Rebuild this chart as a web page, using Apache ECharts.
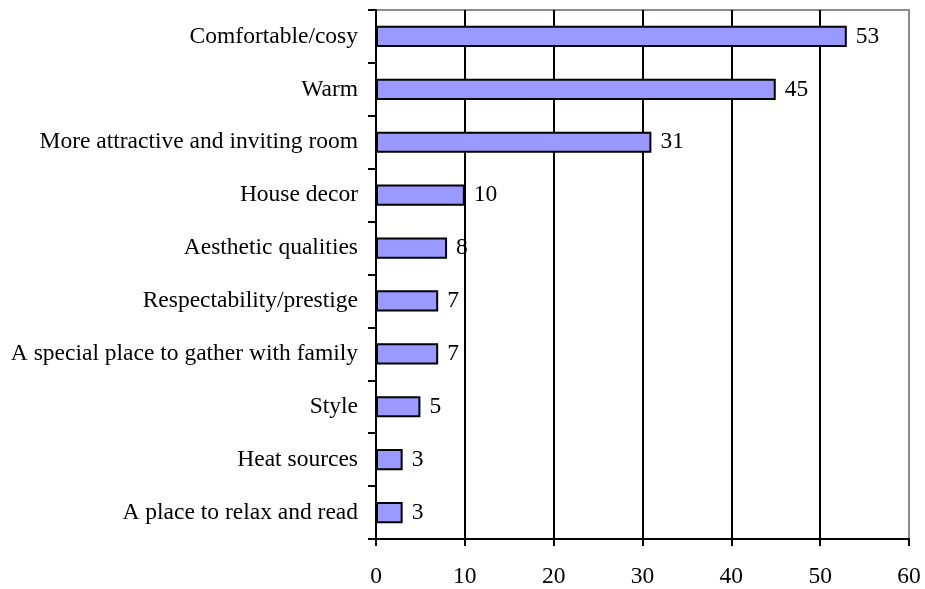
<!DOCTYPE html>
<html>
<head>
<meta charset="utf-8">
<script src="https://cdn.jsdelivr.net/npm/echarts@6/dist/echarts.min.js"></script>
<style>
  html, body { margin: 0; padding: 0; background: #fff; }
  #chart { width: 925px; height: 589px; }
</style>
</head>
<body>
<div id="chart"></div>
<script>
// 类别（自下而上）
const categories = [
  'A place to relax and read',
  'Heat sources',
  'Style',
  'A special place to gather with family',
  'Respectability/prestige',
  'Aesthetic qualities',
  'House decor',
  'More attractive and inviting room',
  'Warm',
  'Comfortable/cosy'
]
const values = [3, 3, 5, 7, 7, 8, 10, 31, 45, 53]
const xTicks = [0, 10, 20, 30, 40, 50, 60]

const font = '"Liberation Serif", "Times New Roman", serif'
const myChart = echarts.init(document.getElementById('chart'))

const option = {
  animation: false,
  grid: {
    left: 376,
    right: 16,
    top: 10,
    bottom: 47,
    show: true,
    borderColor: '#8c8c8c',
    borderWidth: 2
  },
  xAxis: {
    type: 'value',
    min: xTicks[0],
    max: xTicks[xTicks.length - 1],
    interval: 10,
    axisLine: { show: true, onZero: false, lineStyle: { color: '#000', width: 2 } },
    axisTick: { show: true, length: 7, lineStyle: { color: '#000', width: 2 } },
    splitLine: { show: true, showMaxLine: false, showMinLine: false, lineStyle: { color: '#000', width: 2 } },
    axisLabel: { color: '#000', fontFamily: font, fontSize: 23.5, margin: 26 }
  },
  yAxis: {
    type: 'category',
    data: categories,
    axisLine: { show: true, lineStyle: { color: '#000', width: 2 } },
    axisTick: { show: true, length: 8, lineStyle: { color: '#000', width: 2 } },
    axisLabel: { color: '#000', fontFamily: font, fontSize: 23.5, margin: 18 }
  },
  series: [
    {
      type: 'bar',
      data: values,
      barCategoryGap: '60%',
      itemStyle: { color: '#9999FF', borderColor: '#000', borderWidth: 2 },
      label: {
        show: true,
        position: 'right',
        distance: 9,
        color: '#000',
        fontFamily: font,
        fontSize: 23.5
      }
    }
  ]
}
myChart.setOption(option)
</script>
</body>
</html>
